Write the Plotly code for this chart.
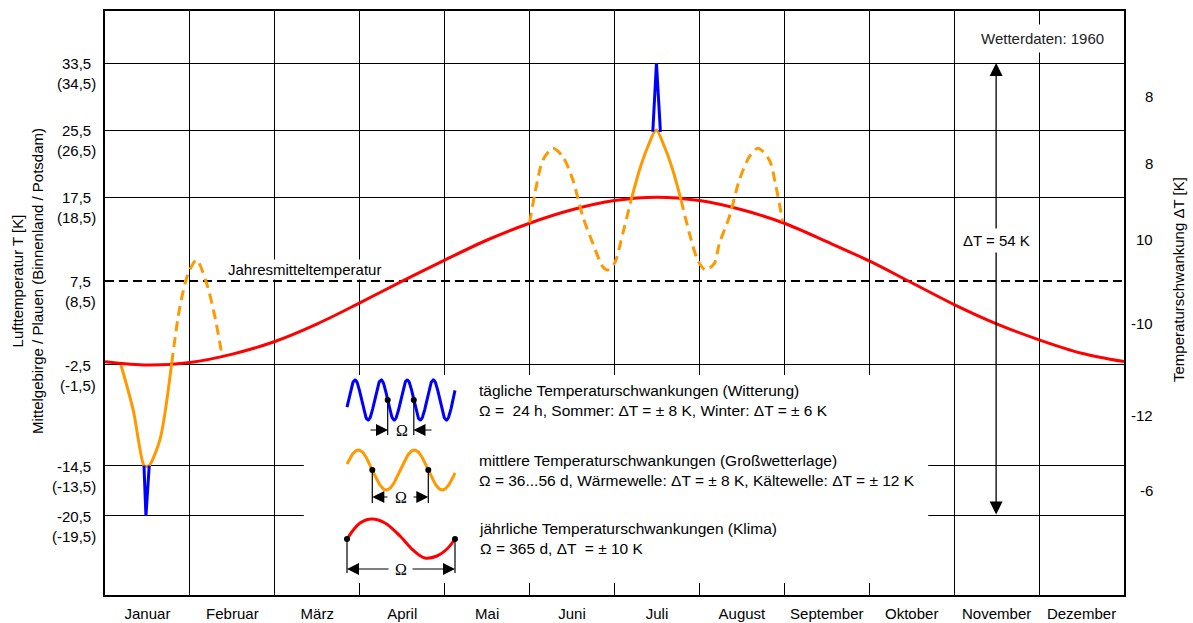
import numpy as np
import plotly.graph_objects as go

# ---------------- data ----------------
months = ["Januar", "Februar", "März", "April", "Mai", "Juni", "Juli",
          "August", "September", "Oktober", "November", "Dezember"]
month_pos = [i + 0.5 for i in range(12)]
month_bounds = list(range(1, 12))

temp_levels = [33.5, 25.5, 17.5, 7.5, -2.5, -14.5, -20.5]
labels_mittelgebirge = ["33,5", "25,5", "17,5", "7,5", "-2,5", "-14,5", "-20,5"]
labels_binnenland = ["(34,5)", "(26,5)", "(18,5)", "(8,5)", "(-1,5)", "(-13,5)", "(-19,5)"]
grid_levels = [33.5, 25.5, 17.5, -2.5, -14.5, -20.5]
mean_m = [0, 12]
mean_T = [7.5, 7.5]

dT_pos = [29.5, 21.5, 12.5, 2.5, -8.5, -17.5]
dT_labels = ["8", "8", "10", "-10", "-12", "-6"]

# annual (climate) curve, red
annual_m = [0, 0.5, 1, 1.5, 2, 2.5, 3, 3.5, 4, 4.5, 5, 5.5, 6, 6.5, 7, 7.5,
            8, 8.5, 9, 9.5, 10, 10.5, 11, 11.5, 12]
annual_T = [-2.1, -2.5, -2.2, -1.2, 0.3, 2.4, 4.9, 7.5, 10.0, 12.4, 14.4, 16.0,
            17.1, 17.5, 17.1, 16.0, 14.4, 12.2, 9.9, 7.3, 4.7, 2.4, 0.5, -1.1, -2.1]

# cold wave in January (orange)
cold_m = [0.188, 0.333, 0.459, 0.49, 0.521, 0.647, 0.785]
cold_T = [-2.5, -7.9, -14.5, -14.6, -14.5, -11.4, -2.3]
cold_dash_m = [0.785, 0.882, 0.98, 1.079, 1.196, 1.294, 1.373]
cold_dash_T = [-2.3, 4.45, 8.43, 10.0, 7.24, 3.26, -1.1]

# warm wave in summer (orange)
warm_dash1_m = [5.0, 5.078, 5.157, 5.274, 5.392, 5.51, 5.627, 5.745, 5.862,
                5.92, 6.0, 6.098, 6.196]
warm_dash1_T = [14.46, 18.76, 21.94, 23.33, 22.33, 19.55, 15.18, 12.0, 9.22,
                8.83, 9.62, 13.2, 17.17]
warm_m = [6.196, 6.294, 6.392, 6.49, 6.588, 6.686, 6.784]
warm_T = [17.17, 20.75, 23.52, 25.5, 23.52, 20.75, 17.17]
warm_dash2_m = [6.784, 6.882, 6.98, 7.07, 7.176, 7.235, 7.353, 7.47, 7.588,
                7.69, 7.823, 7.902, 7.98]
warm_dash2_T = [17.17, 13.2, 10.0, 8.83, 9.62, 12.0, 15.18, 19.55, 22.33,
                23.33, 21.94, 18.76, 14.6]

# daily spikes (blue)
spike_jan_m = [0.459, 0.482, 0.521]
spike_jan_T = [-14.5, -20.5, -14.5]
spike_jul_m = [6.451, 6.494, 6.541]
spike_jul_T = [25.3, 33.5, 25.3]

total_dT_x = 10.494
total_dT_label = "ΔT = 54 K"

# ---------------- styling ----------------
W, H = 1193, 623
L, R, T, B = 105, 69, 11, 28
PW, PH = W - L - R, H - T - B
YR = [-29.92, 39.70]
RED, ORANGE, BLUE = "#FF0000", "#FF9900", "#0000FF"
FONT = "Liberation Sans, Arial, sans-serif"


def px(xp):
    return (xp - L) / PW


def py(yp):
    return (H - B - yp) / PH


fig = go.Figure()

fig.add_trace(go.Scatter(x=mean_m, y=mean_T, mode="lines",
                         line=dict(color="black", width=2, dash="9px,5px"),
                         hoverinfo="skip"))
fig.add_trace(go.Scatter(x=annual_m, y=annual_T, mode="lines",
                         line=dict(color=RED, width=3, shape="spline", smoothing=0.9)))
for xm, yv, dash in [(cold_dash_m, cold_dash_T, "10px,6px"),
                     (warm_dash1_m, warm_dash1_T, "10px,6px"),
                     (warm_dash2_m, warm_dash2_T, "10px,6px"),
                     (cold_m, cold_T, "solid"),
                     (warm_m, warm_T, "solid")]:
    fig.add_trace(go.Scatter(x=xm, y=yv, mode="lines",
                             line=dict(color=ORANGE, width=3, dash=dash,
                                       shape="spline", smoothing=0.8)))
for xm, yv in [(spike_jan_m, spike_jan_T), (spike_jul_m, spike_jul_T)]:
    fig.add_trace(go.Scatter(x=xm, y=yv, mode="lines",
                             line=dict(color=BLUE, width=3)))

# ---------------- legend glyphs (pixel overlay axes) ----------------
gx = np.linspace(347, 455, 240)
blue_y = 400 - 20 * np.sin(2 * np.pi * (gx - 348.5) / 26.1)
orange_y = 470 - 20 * np.sin(2 * np.pi * (gx - 344.3) / 56.0)
red_gx = [347, 360, 372, 385, 400, 413, 425, 437, 447, 455]
red_gy = [539, 523, 519, 523, 536, 550, 558, 556, 549, 539]

fig.add_trace(go.Scatter(x=gx, y=blue_y, xaxis="x2", yaxis="y2", mode="lines",
                         line=dict(color=BLUE, width=3)))
fig.add_trace(go.Scatter(x=gx, y=orange_y, xaxis="x2", yaxis="y2", mode="lines",
                         line=dict(color=ORANGE, width=3)))
fig.add_trace(go.Scatter(x=red_gx, y=red_gy, xaxis="x2", yaxis="y2", mode="lines",
                         line=dict(color=RED, width=3, shape="spline")))
vx, vy = [], []
for x0, y0, y1 in [(387.7, 400, 435), (413.8, 400, 435),
                   (372.3, 470, 503), (428.3, 470, 503),
                   (347, 539, 573), (455, 539, 573)]:
    vx += [x0, x0, None]
    vy += [y0, y1, None]
fig.add_trace(go.Scatter(x=vx, y=vy, xaxis="x2", yaxis="y2", mode="lines",
                         line=dict(color="black", width=1.2)))
fig.add_trace(go.Scatter(x=[387.7, 413.8, 372.3, 428.3, 347, 455],
                         y=[400, 400, 470, 470, 539, 539],
                         xaxis="x2", yaxis="y2", mode="markers",
                         marker=dict(color="black", size=6)))

annotations = []
for tipx, tailx, yy in [(388, 369, 430), (413.5, 433, 430),
                        (372.3, 389, 497), (428.3, 412, 497),
                        (347, 390, 569), (455, 411, 569)]:
    annotations.append(dict(x=tipx, y=yy, ax=tailx, ay=yy, xref="x2", yref="y2",
                            axref="x2", ayref="y2", text="", showarrow=True,
                            arrowhead=2, arrowsize=2, arrowwidth=1.2,
                            arrowcolor="black"))
for ox, oy in [(401.5, 430), (400.5, 497), (400.5, 569)]:
    annotations.append(dict(x=ox, y=oy, xref="x2", yref="y2", text="Ω",
                            showarrow=False, xanchor="center", yanchor="middle",
                            font=dict(family="Liberation Serif, serif", size=16,
                                      color="black")))
legend_texts = [
    ("tägliche Temperaturschwankungen (Witterung)<br>"
     "Ω =\u00a0 24 h, Sommer: ΔT = ± 8 K, Winter: ΔT = ± 6 K", 400.5),
    ("mittlere Temperaturschwankungen (Großwetterlage)<br>"
     "Ω = 36...56 d, Wärmewelle: ΔT = ± 8 K, Kältewelle: ΔT = ± 12 K", 470.5),
    ("jährliche Temperaturschwankungen (Klima)<br>"
     "Ω = 365 d, ΔT \u00a0= ± 10 K", 538.5),
]
for txt, yy in legend_texts:
    annotations.append(dict(x=477, y=yy, xref="x2", yref="y2", text=txt,
                            showarrow=False, xanchor="left", yanchor="middle",
                            align="left", font=dict(size=15.5)))

for v, a, b in zip(temp_levels, labels_mittelgebirge, labels_binnenland):
    annotations.append(dict(x=px(98), y=v, xref="paper", yref="y",
                            text=f"{a}<br>{b}", showarrow=False,
                            xanchor="right", yanchor="middle", align="center",
                            yshift=-10.5))
for v, t in zip(dT_pos, dT_labels):
    annotations.append(dict(x=px(1155), y=v, xref="paper", yref="y", text=t,
                            showarrow=False, xanchor="right", yanchor="middle"))
annotations.append(dict(x=px(27), y=py(281), xref="paper", yref="paper",
                        text="Lufttemperatur T [K]<br>"
                             "Mittelgebirge / Plauen (Binnenland / Potsdam)",
                        textangle=-90, showarrow=False,
                        xanchor="center", yanchor="middle"))
annotations.append(dict(x=px(1178), y=py(280), xref="paper", yref="paper",
                        text="Temperaturschwankung ΔT [K]", textangle=-90,
                        showarrow=False, xanchor="center", yanchor="middle"))
annotations.append(dict(x=px(1042), y=py(39), xref="paper", yref="paper",
                        text="Wetterdaten: 1960", showarrow=False,
                        xanchor="center", yanchor="middle",
                        bgcolor="white", borderpad=5, font=dict(color="#222")))
annotations.append(dict(x=(226 - L) / 85, y=7.5, xref="x", yref="y",
                        text="Jahresmitteltemperatur", showarrow=False,
                        xanchor="left", yanchor="middle", yshift=12,
                        bgcolor="white", borderpad=1))
annotations.append(dict(x=total_dT_x, y=temp_levels[0], ax=total_dT_x,
                        ay=temp_levels[-1], xref="x", yref="y", axref="x",
                        ayref="y", text="", showarrow=True, arrowside="end+start",
                        arrowhead=2, startarrowhead=2, arrowsize=2,
                        startarrowsize=2, arrowwidth=1.3, arrowcolor="black"))
annotations.append(dict(x=total_dT_x, y=12.4, xref="x", yref="y",
                        text=total_dT_label, showarrow=False, bgcolor="white",
                        xanchor="center", yanchor="middle", borderpad=3))

shapes = [dict(type="rect", xref="x", yref="y",
               x0=(304 - L) / 85, x1=(929 - L) / 85,
               y0=-3.69, y1=-28.49, fillcolor="white",
               line=dict(width=0), layer="between")]

fig.update_layout(
    width=W, height=H,
    margin=dict(l=L, r=R, t=T, b=B, pad=0, autoexpand=False),
    plot_bgcolor="white", paper_bgcolor="white",
    showlegend=False,
    font=dict(family=FONT, size=15, color="black"),
    xaxis=dict(range=[0, 12], tickmode="array", tickvals=month_pos,
               ticktext=months, ticks="", showgrid=False, zeroline=False,
               automargin=False,
               showline=True, mirror=True, linecolor="black", linewidth=2,
               ticklabelstandoff=4,
               minor=dict(tickmode="array", tickvals=month_bounds,
                          showgrid=True, gridcolor="black", gridwidth=1.3,
                          ticks="")),
    yaxis=dict(range=YR, tickmode="array", tickvals=grid_levels,
               showticklabels=False, ticks="", showgrid=True, automargin=False,
               gridcolor="black", gridwidth=1.3, zeroline=False,
               showline=True, mirror=True, linecolor="black", linewidth=2),
    xaxis2=dict(overlaying="x", range=[L, W - R], visible=False, anchor="y2",
                automargin=False),
    yaxis2=dict(overlaying="y", range=[H - B, T], visible=False, anchor="x2",
                automargin=False),
    annotations=annotations,
    shapes=shapes,
)

fig.write_html("out.html", config={"displayModeBar": False},
               post_script="document.body.style.margin='0px';"
                           "document.body.style.overflow='hidden';")
